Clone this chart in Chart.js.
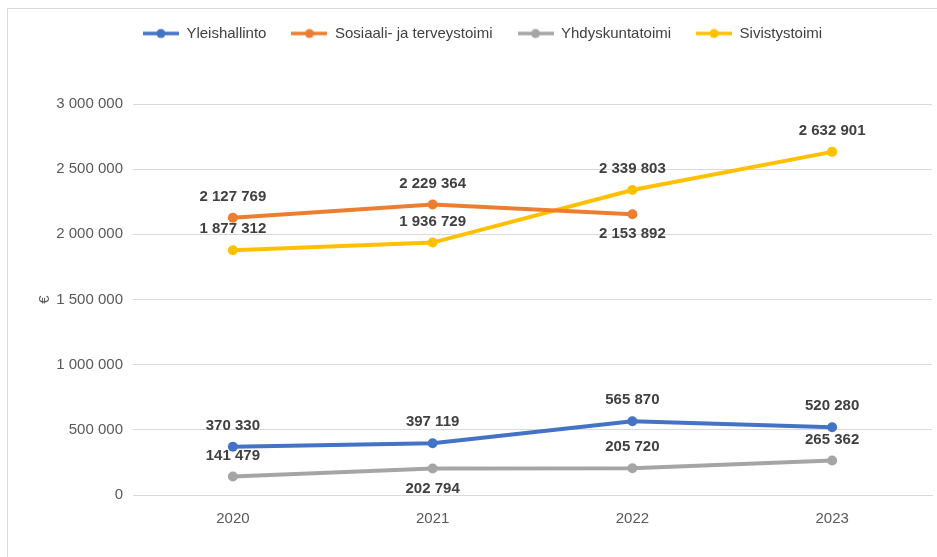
<!DOCTYPE html>
<html>
<head>
    <title>Toimialojen kulut</title>
    <script src="https://cdn.jsdelivr.net/npm/chart.js"></script>
    <style>
        html, body { margin: 0; padding: 0; background: #ffffff; }
        .wrap { position: relative; width: 937px; height: 557px; }
        .frame { position: absolute; left: 7px; top: 8px; right: -5px; bottom: -5px;
                 border-left: 1px solid #d9d9d9; border-top: 1px solid #d9d9d9; pointer-events: none; }
    </style>
</head>
<body>
    <div class="wrap">
        <canvas id="costChart"></canvas>
        <div class="frame"></div>
    </div>

    <script>
        // values
        const years = ['2020', '2021', '2022', '2023'];
        const yleishallinto = [370330, 397119, 565870, 520280];
        const sosiaaliJaTerveys = [2127769, 2229364, 2153892, null];
        const yhdyskunta = [141479, 202794, 205720, 265362];
        const sivistys = [1877312, 1936729, 2339803, 2632901];
        const yTicks = [0, 500000, 1000000, 1500000, 2000000, 2500000, 3000000];

        const FONT = '"Liberation Sans", Arial, sans-serif';

        function fmt(v) {
            return String(Math.round(v)).replace(/\B(?=(\d{3})+(?!\d))/g, ' ');
        }

        // legend marker: short line with a dot, like the Excel original
        function marker(color) {
            const c = document.createElement('canvas');
            c.width = 36; c.height = 12;
            const g = c.getContext('2d');
            g.strokeStyle = color;
            g.lineWidth = 3.5;
            g.beginPath(); g.moveTo(0, 6); g.lineTo(36, 6); g.stroke();
            g.fillStyle = color;
            g.beginPath(); g.arc(18, 6, 4.5, 0, Math.PI * 2); g.fill();
            return c;
        }

        function series(label, data, color, below) {
            return {
                label: label,
                data: data,
                borderColor: color,
                backgroundColor: color,
                borderWidth: 4,
                pointRadius: 5,
                pointHoverRadius: 5,
                pointBackgroundColor: color,
                pointBorderWidth: 0,
                pointStyle: 'circle',
                tension: 0,
                spanGaps: false,
                labelBelow: below
            };
        }

        // value labels above / below each point
        const valueLabels = {
            id: 'valueLabels',
            afterDatasetsDraw(chart) {
                const ctx = chart.ctx;
                ctx.save();
                ctx.font = 'bold 15px ' + FONT;
                ctx.fillStyle = '#404040';
                ctx.textAlign = 'center';
                ctx.textBaseline = 'middle';
                chart.data.datasets.forEach((ds, i) => {
                    const meta = chart.getDatasetMeta(i);
                    meta.data.forEach((pt, j) => {
                        const v = ds.data[j];
                        if (v == null) return;
                        const below = ds.labelBelow[j];
                        ctx.fillText(fmt(v), pt.x, below ? pt.y + 20 : pt.y - 21);
                    });
                });
                ctx.restore();
            }
        };

        // the Excel legend sits a bit right of the canvas centre
        const legendNudge = {
            id: 'legendNudge',
            afterLayout(chart) {
                if (chart.legend) {
                    chart.legend.left += 16;
                    chart.legend.right += 16;
                }
            }
        };

        const ctx = document.getElementById('costChart').getContext('2d');
        const chart = new Chart(ctx, {
            type: 'line',
            data: {
                labels: years,
                datasets: [
                    series('Yleishallinto', yleishallinto, '#4472c4', [false, false, false, false]),
                    series('Sosiaali- ja terveystoimi', sosiaaliJaTerveys, '#ed7d31', [false, false, true, false]),
                    series('Yhdyskuntatoimi', yhdyskunta, '#a5a5a5', [false, true, false, false]),
                    series('Sivistystoimi', sivistys, '#ffc000', [false, false, false, false])
                ]
            },
            options: {
                responsive: true,
                maintainAspectRatio: false,
                animation: false,
                layout: { padding: { top: 1, right: 4, bottom: 22, left: 0 } },
                plugins: {
                    legend: {
                        position: 'top',
                        weight: 1000,
                        labels: {
                            usePointStyle: true,
                            pointStyleWidth: 36,
                            boxHeight: 12,
                            padding: 25,
                            color: '#404040',
                            font: { family: FONT, size: 15 },
                            generateLabels(chart) {
                                const items = Chart.defaults.plugins.legend.labels.generateLabels(chart);
                                items.forEach(it => {
                                    it.pointStyle = marker(chart.data.datasets[it.datasetIndex].borderColor);
                                });
                                return items;
                            }
                        }
                    },
                    // empty spacer between legend and plot
                    subtitle: {
                        display: true,
                        text: ' ',
                        position: 'top',
                        weight: 500,
                        font: { size: 10, lineHeight: 1 },
                        padding: { top: 43, bottom: 0 }
                    },
                    tooltip: { enabled: false }
                },
                scales: {
                    x: {
                        offset: true,
                        grid: { display: false, drawTicks: false },
                        border: { display: true, color: '#d9d9d9', width: 1 },
                        ticks: { color: '#595959', padding: 15, font: { family: FONT, size: 15 } },
                        afterFit(scale) { scale.height = 40; }
                    },
                    y: {
                        min: 0,
                        max: 3000000,
                        afterBuildTicks(scale) { scale.ticks = yTicks.map(v => ({ value: v })); },
                        grid: { color: '#d9d9d9', drawTicks: false },
                        border: { display: false },
                        ticks: {
                            color: '#595959',
                            padding: 10,
                            font: { family: FONT, size: 15 },
                            callback: v => fmt(v)
                        },
                        title: {
                            display: true,
                            text: '€',
                            color: '#595959',
                            font: { family: FONT, size: 15 },
                            padding: { top: 36, bottom: 0 }
                        },
                        afterFit(scale) { scale.width = 133; }
                    }
                }
            },
            plugins: [valueLabels, legendNudge]
        });
    </script>
</body>
</html>
